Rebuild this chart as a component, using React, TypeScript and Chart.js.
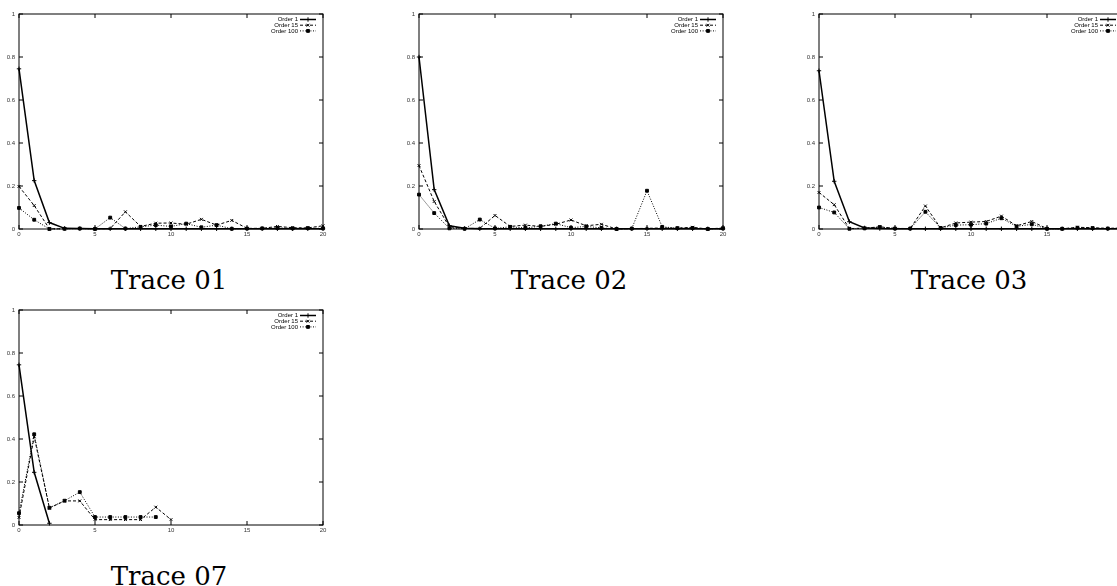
import React, { useEffect, useRef } from "react";
import { Chart, registerables } from "chart.js";
import { drawPoint } from "chart.js/helpers";

Chart.register(...registerables);

// Lag index along the x axis (0..20)
const lags = [0, 1, 2, 3, 4, 5, 6, 7, 8, 9, 10, 11, 12, 13, 14, 15, 16, 17, 18, 19, 20];
const xTicks = [0, 5, 10, 15, 20];
const yTicks = [0, 0.2, 0.4, 0.6, 0.8, 1];
const seriesNames = ["Order 1", "Order 15", "Order 100"];

// Trace 01
const trace01Order1 = [0.745, 0.225, 0.03, 0.003, 0.002, 0.001, 0.001, 0.001, 0.001, 0.001, 0.001, 0.001, 0.001, 0.001, 0.001, 0.001, 0.001, 0.001, 0.001, 0.001, 0.001];
const trace01Order15 = [0.198, 0.109, 0.001, 0.001, 0.003, 0.001, 0.002, 0.08, 0.012, 0.027, 0.028, 0.022, 0.045, 0.018, 0.04, 0.003, 0.003, 0.012, 0.006, 0.005, 0.015];
const trace01Order100 = [0.098, 0.043, 0.0, 0.001, 0.002, 0.0, 0.053, 0.002, 0.01, 0.018, 0.012, 0.025, 0.008, 0.018, 0.001, 0.002, 0.003, 0.005, 0.003, 0.004, 0.003];

// Trace 02
const trace02Order1 = [0.8, 0.183, 0.015, 0.003, 0.001, 0.001, 0.001, 0.001, 0.001, 0.001, 0.001, 0.001, 0.001, 0.001, 0.001, 0.001, 0.001, 0.001, 0.001, 0.001, 0.001];
const trace02Order15 = [0.295, 0.128, 0.01, 0.002, 0.003, 0.063, 0.012, 0.018, 0.012, 0.022, 0.042, 0.015, 0.022, 0.0, 0.002, 0.003, 0.005, 0.004, 0.008, 0.0, 0.005];
const trace02Order100 = [0.16, 0.074, 0.003, 0.001, 0.044, 0.003, 0.01, 0.005, 0.013, 0.025, 0.006, 0.012, 0.005, 0.0, 0.002, 0.178, 0.01, 0.004, 0.005, 0.0, 0.003];

// Trace 03
const trace03Order1 = [0.736, 0.222, 0.034, 0.005, 0.002, 0.001, 0.001, 0.001, 0.001, 0.001, 0.001, 0.001, 0.001, 0.001, 0.001, 0.001, 0.001, 0.001, 0.001, 0.001, 0.001];
const trace03Order15 = [0.17, 0.113, 0.002, 0.004, 0.01, 0.003, 0.002, 0.107, 0.005, 0.028, 0.032, 0.035, 0.06, 0.015, 0.035, 0.002, 0.001, 0.008, 0.006, 0.003, 0.005];
const trace03Order100 = [0.1, 0.077, 0.001, 0.003, 0.009, 0.002, 0.002, 0.08, 0.005, 0.018, 0.02, 0.025, 0.05, 0.012, 0.022, 0.001, 0.001, 0.006, 0.004, 0.002, 0.004];

// Trace 07 (shorter runs)
const trace07Order1 = [0.745, 0.245, 0.008];
const trace07Order15 = [0.035, 0.41, 0.079, 0.112, 0.112, 0.025, 0.025, 0.025, 0.025, 0.083, 0.025];
const trace07Order100 = [0.055, 0.422, 0.08, 0.113, 0.153, 0.037, 0.037, 0.037, 0.037, 0.037];

const lineStyles = [
  { borderWidth: 1.5, borderDash: [] as number[], pointStyle: "cross", pointRadius: 2.2 },
  { borderWidth: 1, borderDash: [3, 2], pointStyle: "crossRot", pointRadius: 2 },
  { borderWidth: 1, borderDash: [1, 1.6], pointStyle: "rect", pointRadius: 2 },
];

const CANVAS_W = 340;
const CANVAS_H = 245;
const AREA_LEFT = 19;
const AREA_TOP = 14;
const AREA_RIGHT = 323;
const AREA_BOTTOM = 229;

// Box around the plot with inward ticks on all four sides
const framePlugin = {
  id: "frameBox",
  beforeDatasetsDraw(chart: any) {
    const { ctx, chartArea: a, scales } = chart;
    const xs = scales.x;
    const ys = scales.y;
    ctx.save();
    ctx.strokeStyle = "#000";
    ctx.lineWidth = 1;
    ctx.strokeRect(a.left, a.top, a.right - a.left, a.bottom - a.top);
    ctx.beginPath();
    xTicks.forEach((v) => {
      const px = xs.getPixelForValue(v);
      ctx.moveTo(px, a.bottom);
      ctx.lineTo(px, a.bottom - 4);
      ctx.moveTo(px, a.top);
      ctx.lineTo(px, a.top + 4);
    });
    yTicks.forEach((v) => {
      const py = ys.getPixelForValue(v);
      ctx.moveTo(a.left, py);
      ctx.lineTo(a.left + 4, py);
      ctx.moveTo(a.right, py);
      ctx.lineTo(a.right - 4, py);
    });
    ctx.stroke();
    ctx.restore();
  },
};

// Key in the upper-right corner: right-aligned label, then a line sample with its marker
const keyPlugin = {
  id: "cornerKey",
  afterDatasetsDraw(chart: any) {
    const { ctx, chartArea: a } = chart;
    ctx.save();
    ctx.font = '6px "Liberation Sans", Arial, sans-serif';
    ctx.textAlign = "right";
    ctx.textBaseline = "middle";
    chart.data.datasets.forEach((ds: any, i: number) => {
      const yy = a.top + 5.5 + i * 5.7;
      ctx.fillStyle = "#000";
      ctx.fillText(ds.label, a.right - 25, yy);
      ctx.strokeStyle = "#000";
      ctx.lineWidth = ds.borderWidth;
      ctx.setLineDash(ds.borderDash || []);
      ctx.beginPath();
      ctx.moveTo(a.right - 23, yy);
      ctx.lineTo(a.right - 7, yy);
      ctx.stroke();
      ctx.setLineDash([]);
      ctx.lineWidth = 1;
      ctx.fillStyle = "#000";
      drawPoint(ctx, { pointStyle: ds.pointStyle, radius: ds.pointRadius, rotation: 0, borderWidth: 1 } as any, a.right - 15, yy);
    });
    ctx.restore();
  },
};

type PanelProps = {
  left: number;
  top: number;
  title: string;
  series: number[][];
};

function Panel({ left, top, title, series }: PanelProps) {
  const ref = useRef<HTMLCanvasElement | null>(null);

  useEffect(() => {
    if (!ref.current) return;
    const datasets = series.map((vals, i) => ({
      label: seriesNames[i],
      data: vals.map((v, k) => ({ x: lags[k], y: v })),
      borderColor: "#000",
      backgroundColor: "#000",
      pointBackgroundColor: "#000",
      pointBorderColor: "#000",
      pointBorderWidth: 1,
      borderWidth: lineStyles[i].borderWidth,
      borderDash: lineStyles[i].borderDash,
      pointStyle: lineStyles[i].pointStyle,
      pointRadius: lineStyles[i].pointRadius,
      tension: 0,
      fill: false,
      clip: false,
      order: 2 - i,
    }));
    const tickFont = { family: '"Liberation Sans", Arial, sans-serif', size: 6 };
    const chart = new Chart(ref.current, {
      type: "line",
      data: { datasets },
      plugins: [framePlugin, keyPlugin],
      options: {
        animation: false,
        responsive: false,
        devicePixelRatio: 1,
        layout: { padding: { left: 0, top: AREA_TOP, right: CANVAS_W - AREA_RIGHT, bottom: 0 } },
        plugins: { legend: { display: false }, tooltip: { enabled: false }, title: { display: false } },
        scales: {
          x: {
            type: "linear",
            min: 0,
            max: 20,
            grid: { display: false, drawTicks: false },
            border: { display: false },
            afterFit: (s: any) => {
              s.height = CANVAS_H - AREA_BOTTOM;
            },
            afterBuildTicks: (s: any) => {
              s.ticks = xTicks.map((v) => ({ value: v }));
            },
            ticks: { font: tickFont, color: "#333", padding: 2, maxRotation: 0, callback: (v: any) => String(v) },
          },
          y: {
            type: "linear",
            min: 0,
            max: 1,
            grid: { display: false, drawTicks: false },
            border: { display: false },
            afterFit: (s: any) => {
              s.width = AREA_LEFT;
            },
            afterBuildTicks: (s: any) => {
              s.ticks = yTicks.map((v) => ({ value: v }));
            },
            ticks: { font: tickFont, color: "#333", padding: 4, callback: (v: any) => String(v) },
          },
        },
      } as any,
    });
    return () => chart.destroy();
  }, [series]);

  return (
    <>
      <canvas
        ref={ref}
        width={CANVAS_W}
        height={CANVAS_H}
        style={{ position: "absolute", left, top, width: CANVAS_W, height: CANVAS_H }}
      />
      <div
        style={{
          position: "absolute",
          left: left + (AREA_LEFT + AREA_RIGHT) / 2 - 2,
          top: top + 266,
          transform: "translateX(-50%)",
          fontFamily: '"DejaVu Serif", "Liberation Serif", serif',
          fontSize: 26,
          whiteSpace: "nowrap",
          color: "#000",
          lineHeight: "28px",
        }}
      >
        {title}
      </div>
    </>
  );
}

const panel1 = [trace01Order1, trace01Order15, trace01Order100];
const panel2 = [trace02Order1, trace02Order15, trace02Order100];
const panel3 = [trace03Order1, trace03Order15, trace03Order100];
const panel4 = [trace07Order1, trace07Order15, trace07Order100];

export default function App() {
  return (
    <div
      style={{
        position: "fixed",
        left: 0,
        top: 0,
        width: 1117,
        height: 586,
        overflow: "hidden",
        background: "#fff",
      }}
    >
      <Panel left={0} top={0} title="Trace 01" series={panel1} />
      <Panel left={400} top={0} title="Trace 02" series={panel2} />
      <Panel left={800} top={0} title="Trace 03" series={panel3} />
      <Panel left={0} top={296} title="Trace 07" series={panel4} />
    </div>
  );
}
